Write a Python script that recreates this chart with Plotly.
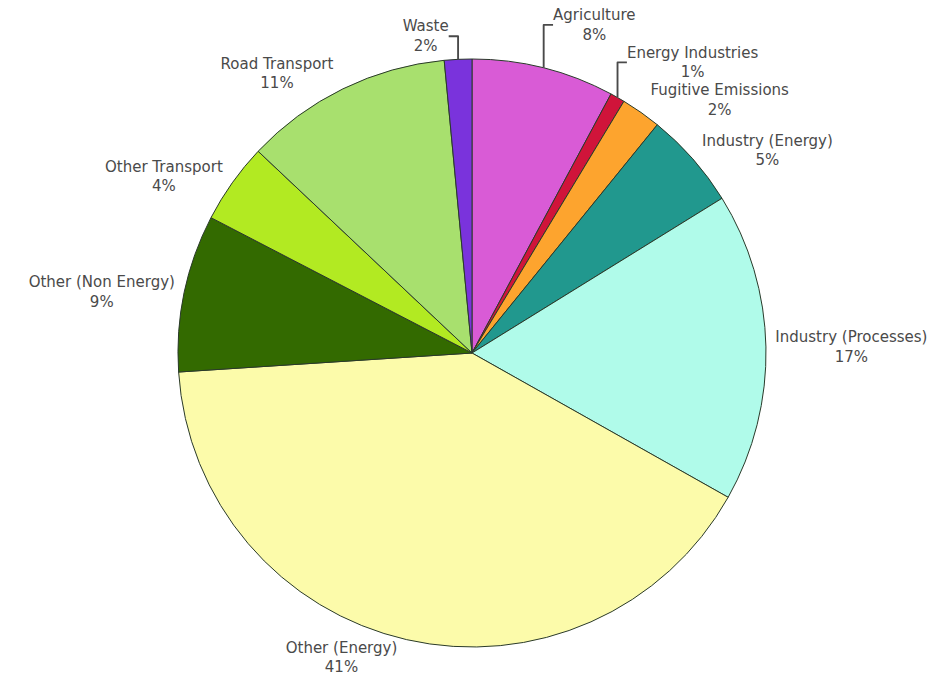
import plotly.graph_objects as go

labels = ["Agriculture", "Energy Industries", "Fugitive Emissions", "Industry (Energy)",
          "Industry (Processes)", "Other (Energy)", "Other (Non Energy)", "Other Transport",
          "Road Transport", "Waste"]
values = [7.8, 0.8, 2.2, 5.3, 16.9, 40.6, 8.6, 4.4, 11.4, 1.5]
colors = ["#D95BD6", "#D0143A", "#FDA42E", "#21988E", "#B0FBEA", "#FCFBAA",
          "#336A00", "#B2EA22", "#A8E06E", "#7A33DC"]

fig = go.Figure(go.Pie(
    labels=labels,
    values=values,
    sort=False,
    direction="clockwise",
    rotation=0,
    marker=dict(colors=colors, line=dict(color="#2a3a2a", width=1)),
    textposition="outside",
    texttemplate="%{label}<br>%{percent:.0%}",
    outsidetextfont=dict(family="DejaVu Sans", size=15, color="#4a4a4a"),
    showlegend=False,
    hoverinfo="label+percent",
))

fig.update_layout(
    width=949, height=696,
    margin=dict(l=100, r=105, t=59, b=49, autoexpand=False),
    paper_bgcolor="white",
    plot_bgcolor="white",
)

fig.write_html("out.html")
